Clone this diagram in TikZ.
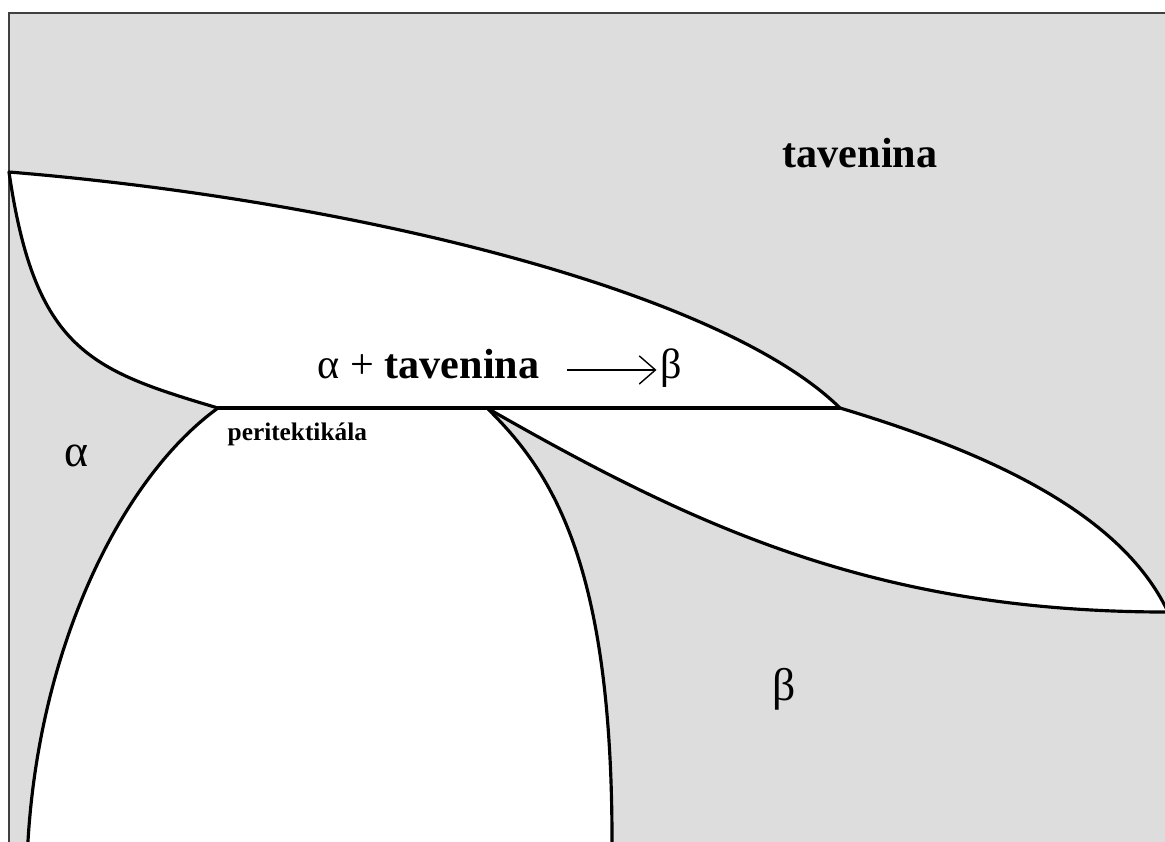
\documentclass[tikz,border=0pt]{standalone}
\usepackage{fontspec}
\setmainfont{Liberation Serif}
\usetikzlibrary{positioning, arrows.meta}
\definecolor{phasegray}{RGB}{221,221,221}

\begin{document}
\begin{tikzpicture}[x=0.01cm, y=-0.01cm, font=\fontsize{12}{14}\selectfont,
  phase/.style={fill=white, draw=black, line width=0.9pt, line join=round},
  lbl/.style={inner sep=0pt, anchor=base west},
  reactarrow/.style={-{Straight Barb[length=4.6pt, width=8pt]}, line width=0.4pt,
    shorten <=7.5pt, shorten >=1pt}]

  \useasboundingbox (0,0) rectangle (1165,841);
  \clip (0,0) rectangle (1165,841);

  % --- background and frame ---
  \fill[phasegray] (9,13) rectangle (1175,860);
  \draw[line width=0.45pt, black!75] (9,860) -- (9,13) -- (1175,13);

  % --- alpha + liquid (liquidus on top, solidus on the left) ---
  \filldraw[phase] (9,172) .. controls (350,200) and (720,290) .. (840,408)
    -- (218,408)
    .. controls (90,370) and (35,350) .. (9,172) -- cycle;

  % --- alpha + beta (solvus lines down to the bottom) ---
  \filldraw[phase] (27,870) -- (28,841) .. controls (40,640) and (125,475) .. (218,408)
    -- (487,408)
    .. controls (550,470) and (612,560) .. (612,841) -- (612,870) -- cycle;

  % --- beta + liquid lens ---
  \filldraw[phase] (840,408) .. controls (980,450) and (1120,510) .. (1168,612)
    .. controls (880,612) and (700,530) .. (487,408) -- cycle;

  % peritectic line
  \draw[line width=0.9pt] (218,408) -- (840,408);

  % --- labels ---
  \node[lbl] (liquid) at (782,167) {\bfseries tavenina};
  \node[lbl] (reaction) at (317,378) {α + \bfseries tavenina};
  \node[lbl] (product) at (660,378) {β};
  \draw[reactarrow] (reaction.mid east) -- (product.mid west);
  \node[lbl, font=\fontsize{7.2}{8}\selectfont\bfseries] (peritectic) at (227,440) {peritektikála};
  \node[lbl, font=\fontsize{13}{15}\selectfont] (alpha) at (64,466) {α};
  \node[lbl, font=\fontsize{13}{15}\selectfont] (beta) at (772,700) {β};

\end{tikzpicture}
\end{document}
